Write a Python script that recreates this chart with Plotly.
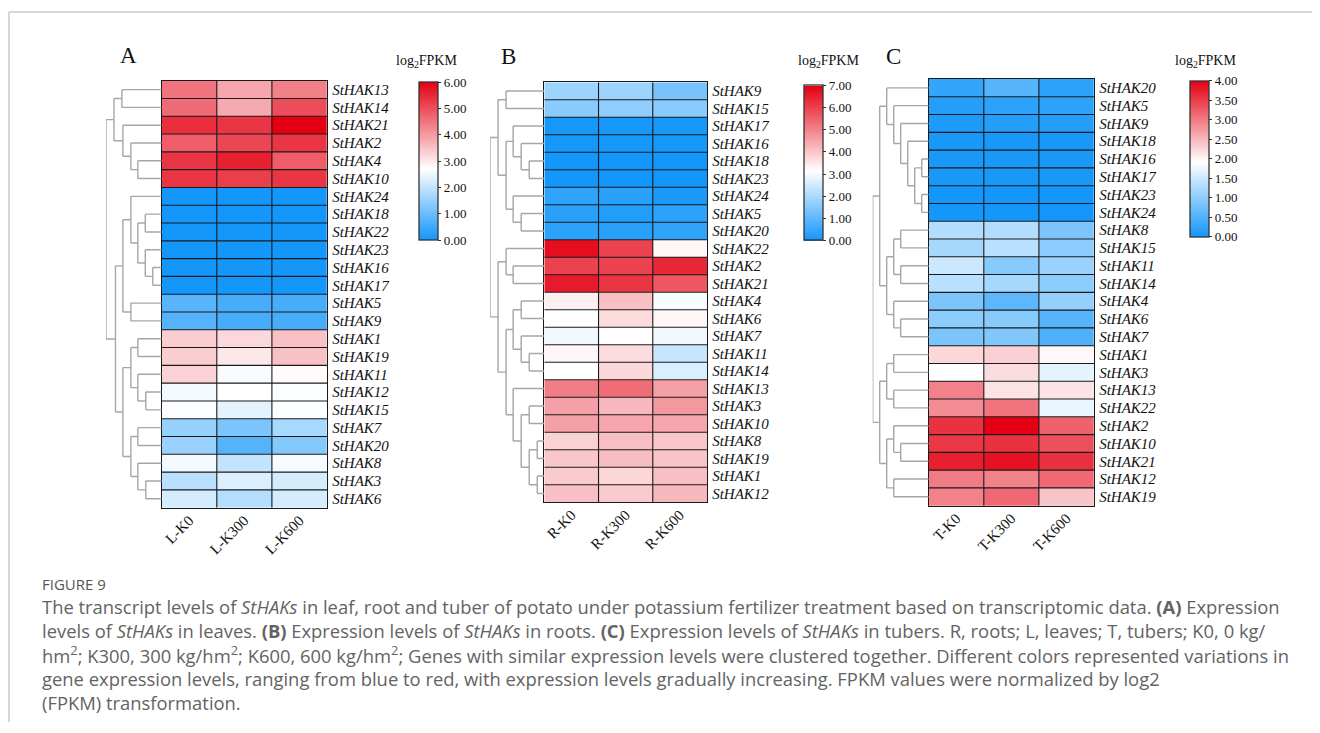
import plotly.graph_objects as go

# page offset of the plot div (default body margin) is compensated in fx/fy
W, H = 1312, 725
OFF = 8

# ---------------- data ----------------
A_cols = ["L-K0", "L-K300", "L-K600"]
A_genes = ["StHAK13", "StHAK14", "StHAK21", "StHAK2", "StHAK4", "StHAK10", "StHAK24", "StHAK18",
           "StHAK22", "StHAK23", "StHAK16", "StHAK17", "StHAK5", "StHAK9", "StHAK1", "StHAK19",
           "StHAK11", "StHAK12", "StHAK15", "StHAK7", "StHAK20", "StHAK8", "StHAK3", "StHAK6"]
A_K0 =   [4.50, 4.60, 5.40, 4.80, 5.30, 5.30, 0.02, 0.02, 0.02, 0.02, 0.02, 0.02, 0.80, 0.75,
          3.35, 3.35, 3.30, 2.55, 2.65, 1.50, 1.55, 2.55, 1.90, 2.20]
A_K300 = [3.85, 3.80, 5.30, 5.10, 5.60, 5.20, 0.02, 0.02, 0.02, 0.02, 0.02, 0.02, 0.60, 0.60,
          3.20, 3.00, 2.62, 2.70, 2.40, 1.20, 0.75, 2.00, 2.30, 1.85]
A_K600 = [4.35, 5.00, 6.00, 5.30, 4.80, 5.30, 0.02, 0.02, 0.02, 0.02, 0.02, 0.02, 0.60, 0.60,
          3.50, 3.50, 2.75, 2.65, 2.68, 1.70, 1.30, 2.60, 2.20, 2.20]
A_tree = (
    (("StHAK13", "StHAK14", 40), ("StHAK21", ("StHAK2", ("StHAK4", "StHAK10", 24), 31), 39), 48),
    (
        (("StHAK24", (("StHAK18", "StHAK22", 16.5), ("StHAK23", ("StHAK16", "StHAK17", 9), 16.5), 24), 31),
         ("StHAK5", "StHAK9", 31), 39),
        ((("StHAK1", "StHAK19", 24), ("StHAK11", ("StHAK12", "StHAK15", 16), 24), 31),
         (("StHAK7", "StHAK20", 24), ("StHAK8", ("StHAK3", "StHAK6", 16), 24), 31), 39),
        46.5),
    56)

B_cols = ["R-K0", "R-K300", "R-K600"]
B_genes = ["StHAK9", "StHAK15", "StHAK17", "StHAK16", "StHAK18", "StHAK23", "StHAK24", "StHAK5",
           "StHAK20", "StHAK22", "StHAK2", "StHAK21", "StHAK4", "StHAK6", "StHAK7", "StHAK11",
           "StHAK14", "StHAK13", "StHAK3", "StHAK10", "StHAK8", "StHAK19", "StHAK1", "StHAK12"]
B_K0 =   [1.85, 1.60, 0.05, 0.05, 0.02, 0.02, 0.40, 0.30, 0.35, 6.80, 6.00, 6.60, 3.40, 3.15,
          2.95, 3.30, 3.15, 5.10, 4.60, 4.60, 3.85, 4.00, 3.95, 4.10]
B_K300 = [1.85, 1.65, 0.05, 0.05, 0.02, 0.02, 0.30, 0.20, 0.30, 6.00, 6.00, 6.20, 4.10, 3.70,
          3.15, 3.70, 3.75, 5.35, 4.20, 4.50, 4.10, 4.15, 3.75, 3.95]
B_K600 = [1.35, 1.60, 0.05, 0.05, 0.02, 0.02, 0.10, 0.35, 0.40, 3.30, 6.40, 5.70, 3.05, 3.30,
          2.95, 2.40, 2.65, 4.60, 4.70, 4.50, 4.00, 4.05, 4.10, 4.20]
B_tree = (
    (("StHAK9", "StHAK15", 38),
     (("StHAK17", ("StHAK16", ("StHAK18", "StHAK23", 15), 23), 31),
      ("StHAK24", ("StHAK5", "StHAK20", 23), 31), 38), 46),
    (("StHAK22", ("StHAK2", "StHAK21", 31), 38),
     ((("StHAK4", "StHAK6", 23), ("StHAK7", ("StHAK11", "StHAK14", 15), 23), 31),
      ("StHAK13", (("StHAK3", "StHAK10", 15),
                   (("StHAK8", "StHAK19", 7), ("StHAK1", "StHAK12", 7), 15), 23), 31), 38), 46),
    54)

C_cols = ["T-K0", "T-K300", "T-K600"]
C_genes = ["StHAK20", "StHAK5", "StHAK9", "StHAK18", "StHAK16", "StHAK17", "StHAK23", "StHAK24",
           "StHAK8", "StHAK15", "StHAK11", "StHAK14", "StHAK4", "StHAK6", "StHAK7", "StHAK1",
           "StHAK3", "StHAK13", "StHAK22", "StHAK2", "StHAK10", "StHAK21", "StHAK12", "StHAK19"]
C_K0 =   [0.28, 0.15, 0.10, 0.05, 0.05, 0.05, 0.02, 0.02, 1.30, 1.20, 1.50, 1.35, 0.85, 1.00,
          0.85, 2.25, 1.92, 2.95, 2.85, 3.60, 3.55, 3.75, 3.00, 2.95]
C_K300 = [0.55, 0.22, 0.15, 0.05, 0.05, 0.05, 0.02, 0.02, 1.30, 1.35, 0.95, 1.20, 0.60, 0.95,
          0.90, 2.30, 2.20, 2.15, 3.05, 4.00, 3.60, 3.85, 2.95, 3.15]
C_K600 = [0.22, 0.22, 0.15, 0.05, 0.05, 0.05, 0.02, 0.02, 0.85, 1.00, 1.10, 1.00, 1.05, 0.55,
          0.50, 1.98, 1.70, 2.15, 1.75, 3.20, 3.35, 3.60, 3.15, 2.40]
C_tree = (
    (("StHAK20", ("StHAK5", ("StHAK9", ("StHAK18", (("StHAK16", "StHAK17", 7),
                                                    ("StHAK23", "StHAK24", 7), 14), 21), 28), 35), 42),
     ((("StHAK8", "StHAK15", 28), ("StHAK11", "StHAK14", 28), 35),
      ("StHAK4", ("StHAK6", "StHAK7", 28), 35), 42), 49),
    ((("StHAK1", "StHAK3", 35), ("StHAK13", "StHAK22", 35), 42),
     (("StHAK2", ("StHAK10", "StHAK21", 28), 35), ("StHAK12", "StHAK19", 35), 42), 49),
    56)

# ---------------- layout helpers ----------------
def fx(x):
    return (x - OFF) / W

def fy(y):
    return 1 - (y - OFF) / H

SERIF = "Liberation Serif, Times New Roman, serif"
SANS = "Open Sans, Noto Sans, sans-serif"
BLUE = "rgb(18,150,250)"
RED = "rgb(228,0,18)"

panels = [
    dict(genes=A_genes, cols=A_cols, vals=[A_K0, A_K300, A_K600], tree=A_tree, zmax=6, mid=0.45,
         hm=(161.7, 327, 80.7, 507.7), dleft=106, cb=(419, 82, 158), cbtitle=(426, 62), lab=("A", 128.5, 55)),
    dict(genes=B_genes, cols=B_cols, vals=[B_K0, B_K300, B_K600], tree=B_tree, zmax=7, mid=0.45,
         hm=(544.3, 707, 82.3, 502.3), dleft=490, cb=(804, 85.5, 154.5), cbtitle=(828, 62), lab=("B", 508, 56)),
    dict(genes=C_genes, cols=C_cols, vals=[C_K0, C_K300, C_K600], tree=C_tree, zmax=4, mid=0.48,
         hm=(928.7, 1094, 79, 505.7), dleft=872.7, cb=(1190, 80.7, 156.3), cbtitle=(1205, 62), lab=("C", 893, 56)),
]


def dendro(tree, order):
    xs, ys = [], []

    def rec(node):
        if isinstance(node, str):
            return order.index(node), 0.0
        left, right, h = node
        yl, hl = rec(left)
        yr, hr = rec(right)
        xs.extend([hl, h, None, hr, h, None, h, h, None])
        ys.extend([yl, yl, None, yr, yr, None, yl, yr, None])
        return (yl + yr) / 2, h

    _, hroot = rec(tree)
    return xs, ys, hroot


fig = go.Figure()
layout = {}
annotations = []

for k, p in enumerate(panels):
    n = len(p["genes"])
    m = len(p["cols"])
    hx = 2 * k + 1  # heatmap axis index
    dx = 2 * k + 2  # dendrogram axis index
    x0, x1, y0, y1 = p["hm"]
    z = [[p["vals"][j][i] for j in range(m)] for i in range(n)]
    cbx, cby, cblen = p["cb"]
    mid = p["mid"]
    fig.add_trace(go.Heatmap(
        z=z, x=list(range(m)), y=list(range(n)),
        zmin=0, zmax=p["zmax"],
        colorscale=[[0, BLUE], [mid, "white"], [1, RED]],
        xaxis=f"x{hx}", yaxis=f"y{hx}",
        hoverinfo="skip",
        colorbar=dict(
            x=fx(cbx), xanchor="left", y=fy(cby), yanchor="top",
            len=cblen, lenmode="pixels", thickness=19, thicknessmode="pixels",
            outlinewidth=1.3, outlinecolor="#333333",
            ticks="outside", ticklen=3, tickcolor="#333333", tickwidth=1,
            tickvals=list(range(0, p["zmax"] + 1)) if p["zmax"] > 4 else [i * 0.5 for i in range(9)],
            tickformat=".2f",
            tickfont=dict(family=SERIF, size=13, color="#111111"),
            xpad=0, ypad=0,
        ),
    ))
    # cell borders
    gx, gy = [], []
    for i in range(1, n):
        gx.extend([-0.5, m - 0.5, None])
        gy.extend([i - 0.5, i - 0.5, None])
    for j in range(1, m):
        gx.extend([j - 0.5, j - 0.5, None])
        gy.extend([-0.5, n - 0.5, None])
    fig.add_trace(go.Scatter(x=gx, y=gy, mode="lines", line=dict(color="#1a1a1a", width=1.1),
                             xaxis=f"x{hx}", yaxis=f"y{hx}", hoverinfo="skip", showlegend=False))
    # dendrogram
    dxs, dys, hroot = dendro(p["tree"], p["genes"])
    fig.add_trace(go.Scatter(x=dxs, y=dys, mode="lines", line=dict(color="#a6a6a6", width=1.4),
                             xaxis=f"x{dx}", yaxis=f"y{dx}", hoverinfo="skip", showlegend=False))

    sfx_h = "" if hx == 1 else str(hx)
    layout[f"xaxis{sfx_h}"] = dict(
        domain=[fx(x0), fx(x1)], anchor=f"y{hx}", range=[-0.5, m - 0.5],
        tickvals=list(range(m)), ticktext=p["cols"], tickangle=-45,
        tickfont=dict(family=SERIF, size=15, color="#111111"),
        showgrid=False, zeroline=False, showline=True, mirror=True, linecolor="#1a1a1a", linewidth=1.3,
        ticks="", ticklabelstandoff=-3,
    )
    layout[f"yaxis{sfx_h}"] = dict(
        domain=[fy(y1), fy(y0)], anchor=f"x{hx}", range=[n - 0.5, -0.5], side="right",
        tickvals=list(range(n)), ticktext=p["genes"],
        tickfont=dict(family=SERIF, size=15, color="#111111", style="italic"),
        showgrid=False, zeroline=False, showline=True, mirror=True, linecolor="#1a1a1a", linewidth=1.3,
        ticks="", ticklabelstandoff=1,
    )
    layout[f"xaxis{dx}"] = dict(
        domain=[fx(p["dleft"]), fx(x0)], anchor=f"y{dx}", range=[hroot, 0],
        showticklabels=False, showgrid=False, zeroline=False, showline=False, ticks="",
    )
    layout[f"yaxis{dx}"] = dict(
        domain=[fy(y1), fy(y0)], anchor=f"x{dx}", range=[n - 0.5, -0.5],
        showticklabels=False, showgrid=False, zeroline=False, showline=False, ticks="",
    )
    tx, ty = p["cbtitle"]
    annotations.append(dict(text="log<sub>2</sub>FPKM", x=fx(tx), y=fy(ty), xref="paper", yref="paper",
                            showarrow=False, xanchor="center", yanchor="middle",
                            font=dict(family=SERIF, size=14, color="#111111")))
    lab, lx, ly = p["lab"]
    annotations.append(dict(text=lab, x=fx(lx), y=fy(ly), xref="paper", yref="paper",
                            showarrow=False, xanchor="center", yanchor="middle",
                            font=dict(family=SERIF, size=23, color="#111111")))

# caption
caption_lines = [
    "The transcript levels of <i>StHAKs</i> in leaf, root and tuber of potato under potassium fertilizer treatment based on transcriptomic data. <b>(A)</b> Expression",
    "levels of <i>StHAKs</i> in leaves. <b>(B)</b> Expression levels of <i>StHAKs</i> in roots. <b>(C)</b> Expression levels of <i>StHAKs</i> in tubers. R, roots; L, leaves; T, tubers; K0, 0 kg/",
    "hm<sup>2</sup>; K300, 300 kg/hm<sup>2</sup>; K600, 600 kg/hm<sup>2</sup>; Genes with similar expression levels were clustered together. Different colors represented variations in",
    "gene expression levels, ranging from blue to red, with expression levels gradually increasing. FPKM values were normalized by log2",
    "(FPKM) transformation.",
]
annotations.append(dict(text="FIGURE 9", x=fx(40), y=fy(584), xref="paper", yref="paper", showarrow=False,
                        xanchor="left", yanchor="middle", font=dict(family=SANS, size=15, color="#555555")))
for i, line in enumerate(caption_lines):
    annotations.append(dict(text=line, x=fx(40), y=fy(606 + 24 * i), xref="paper", yref="paper",
                            showarrow=False, xanchor="left", yanchor="middle",
                            font=dict(family=SANS, size=18.4, color="#636363")))

shapes = [
    dict(type="line", xref="paper", yref="paper", x0=fx(9), x1=fx(9), y0=fy(12), y1=fy(722),
         line=dict(color="#c8c8c8", width=1.5)),
    dict(type="line", xref="paper", yref="paper", x0=fx(9), x1=1, y0=fy(12), y1=fy(12),
         line=dict(color="#c8c8c8", width=1.5)),
]

fig.update_layout(
    width=W, height=H, margin=dict(l=0, r=0, t=0, b=0),
    paper_bgcolor="white", plot_bgcolor="white",
    showlegend=False, annotations=annotations, shapes=shapes, **layout,
)

fig.write_html("out.html")
